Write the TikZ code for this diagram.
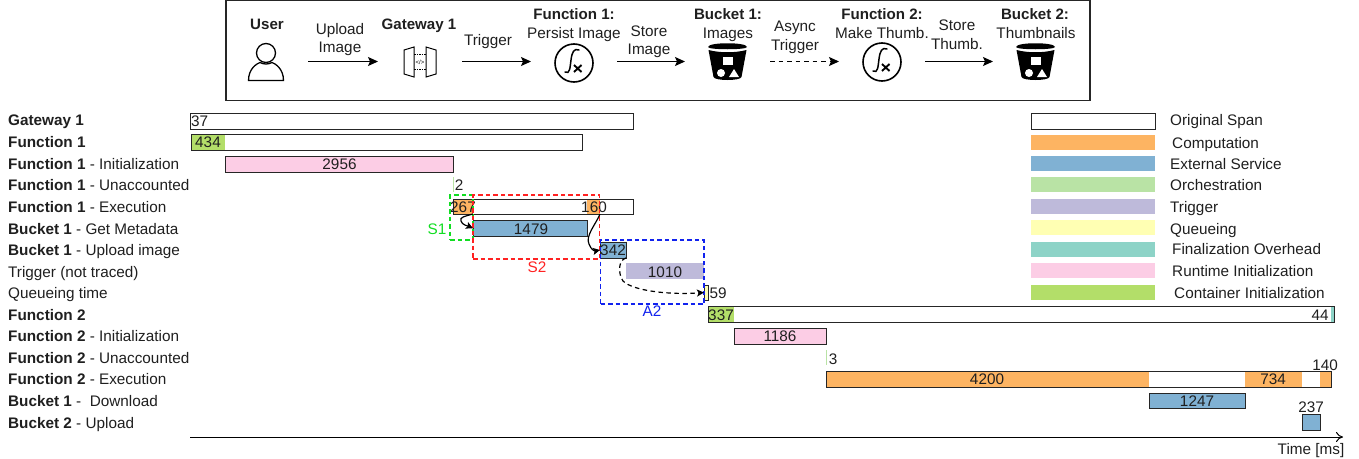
\documentclass[tikz,border=0pt]{standalone}
\usepackage{fontspec}
\setmainfont{Liberation Sans}
\usetikzlibrary{arrows.meta,calc}
\definecolor{cComp}{HTML}{FDB462}
\definecolor{cExt}{HTML}{80B1D3}
\definecolor{cOrch}{HTML}{B9E3A5}
\definecolor{cTrig}{HTML}{BEBADA}
\definecolor{cQueue}{HTML}{FFFFB3}
\definecolor{cFin}{HTML}{8DD3C7}
\definecolor{cRun}{HTML}{FCCDE5}
\definecolor{cCont}{HTML}{B3DE69}
\definecolor{cGreen}{HTML}{11DD22}
\definecolor{cRed}{HTML}{FF2222}
\definecolor{cBlue}{HTML}{1122EE}
\newcommand{\spn}[6]{\node[#1,minimum width={(#5-#3)*1pt},minimum height={(#6-#4)*1pt}] (#2) at ({(#3+#5)/2},{(#4+#6)/2}) {};}
\newcommand{\outl}[1]{\draw[barline] (#1.south west) rectangle (#1.north east);}
\tikzset{
  txt/.style={font=\fontsize{15.3}{18}\selectfont,inner sep=0pt,text height=10.8pt,text depth=3pt,text=black!88,yshift=-2pt},
  rowlabel/.style={txt,anchor=west},
  legendlabel/.style={txt,anchor=west},
  val/.style={txt},
  bold/.style={font=\fontsize{15.1}{18}\selectfont\bfseries},
  seg/.style={fill=#1,draw=none,inner sep=0pt,outer sep=0pt},
  barline/.style={draw=black!85,line width=1pt},
  boxed/.style={fill=#1,draw=black!85,line width=1pt,inner sep=0pt,outer sep=0pt},
  icon/.style={draw=none,fill=none,inner sep=0pt,outer sep=0pt,minimum height=40pt},
  flow/.style={line width=1.3pt,-{Stealth[length=10pt,width=9pt,inset=2pt]}},
  curve/.style={line width=1.2pt,-{Stealth[length=7pt,width=7pt,inset=1.5pt]}},
  dbox/.style={line width=1.3pt,dash pattern=on 4.5pt off 3pt,inner sep=0pt,outer sep=0pt,fill=none},
  bucket/.pic={
    \fill[black] (-19.5,-15) .. controls (-19.5,-20) and (19.5,-20) .. (19.5,-15) .. controls (19.5,-12) and (-19.5,-12) .. (-19.5,-15) -- cycle;
    \fill[black] (-19,-12) .. controls (-8,-9) and (8,-9) .. (19,-12) -- (14,15) .. controls (13,19) and (-13,19) .. (-14,15) -- cycle;
    \fill[white] (-4.5,-5) rectangle (5.5,3);
    \fill[white] (-6.5,11) circle (4);
    \fill[white] (6.5,7) -- (11.5,15) -- (1.5,15) -- cycle;
  },
  fnicon/.pic={
    \draw[line width=1.6pt] (0,0) circle (19);
    \draw[line width=1.5pt,line cap=round] (5,-13) .. controls (0,-15) and (-2,-11) .. (-3,-3) .. controls (-4,4) and (-4,12) .. (-9,9);
    \draw[line width=1.9pt] (0,2) -- (7.5,9) (7.5,2) -- (0,9);
  },
  gateicon/.pic={
    \draw[line width=1pt] (-16,-12) -- (-6,-15) -- (-6,15) -- (-16,12) -- cycle;
    \draw[line width=1pt] (16,-12) -- (6,-15) -- (6,15) -- (16,12) -- cycle;
    \draw[line width=.8pt,dash pattern=on 1.5pt off 1pt] (-6,-8) -- (6,-8) (-6,7) -- (6,7);
    \node[inner sep=0pt,font=\fontsize{6}{6}\selectfont] at (0,0) {</>};
  },
  usericon/.pic={
    \draw[line width=1.3pt] (0,-9.5) circle (9.5);
    \draw[line width=1.3pt] (-17.5,18) .. controls (-17.5,6) and (-9,1) .. (-6,0) .. controls (-2,2) and (2,2) .. (6,0) .. controls (9,1) and (17.5,6) .. (17.5,18) -- cycle;
  }
}
\begin{document}
\begin{tikzpicture}[x=1pt,y=-1pt]
\useasboundingbox (0,0) rectangle (1359,458);
\node[draw=black!85,line width=1.2pt,fill=none,minimum width=864pt,minimum height=100pt,inner sep=0pt] (frame) at (658,50.5) {};
% header icons
\node[icon,minimum width=84pt] (uI) at (266,61.5) {};
\node[icon,minimum width=84pt] (gI) at (420,61.5) {};
\node[icon,minimum width=86pt] (f1I) at (574,61.5) {};
\node[icon,minimum width=85pt] (b1I) at (727.5,61.5) {};
\node[icon,minimum width=86pt] (f2I) at (882,61.5) {};
\node[icon,minimum width=85pt] (b2I) at (1035.5,61.5) {};
\pic at (266,62.5) {usericon};
\pic at (420,62) {gateicon};
\pic at (574,63) {fnicon};
\pic at (727.5,62) {bucket};
\pic at (882,62) {fnicon};
\pic at (1035.5,62) {bucket};
\draw[flow] (uI) -- (gI);
\draw[flow] (gI) -- (f1I);
\draw[flow] (f1I) -- (b1I);
\draw[flow,dash pattern=on 4.5pt off 4pt] (b1I) -- (f2I);
\draw[flow] (f2I) -- (b2I);
% header text
\node[val,bold] (hUser) at (267,24) {User};
\node[val] (hUp1) at (340,29) {Upload};
\node[val] (hUp2) at (340,47) {Image};
\node[val,bold] (hGw) at (419,24) {Gateway 1};
\node[val] (hTr) at (488,40) {Trigger};
\node[val,bold] (hF1) at (574,14) {Function 1:};
\node[val] (hF1b) at (574,33) {Persist Image};
\node[val] (hSt1) at (649,31) {Store};
\node[val] (hSt2) at (649,49) {Image};
\node[val,bold] (hB1) at (728,14) {Bucket 1:};
\node[val] (hB1b) at (728,33) {Images};
\node[val] (hAs1) at (795,26) {Async};
\node[val] (hAs2) at (795,45) {Trigger};
\node[val,bold] (hF2) at (882,14) {Function 2:};
\node[val] (hF2b) at (882,33) {Make Thumb.};
\node[val] (hSt3) at (957,25) {Store};
\node[val] (hSt4) at (957,44) {Thumb.};
\node[val,bold] (hB2) at (1035,14) {Bucket 2:};
\node[val] (hB2b) at (1036,33) {Thumbnails};
% row labels
\node[rowlabel] (r1) at (8,120) {\textbf{Gateway 1}};
\node[rowlabel] (r2) at (8,142) {\textbf{Function 1}};
\node[rowlabel] (r3) at (8,164) {\textbf{Function 1} - Initialization};
\node[rowlabel] (r4) at (8,185) {\textbf{Function 1} - Unaccounted};
\node[rowlabel] (r5) at (8,207) {\textbf{Function 1} - Execution};
\node[rowlabel] (r6) at (8,228.5) {\textbf{Bucket 1} - Get Metadata};
\node[rowlabel] (r7) at (8,250) {\textbf{Bucket 1} - Upload image};
\node[rowlabel] (r8) at (8,271.5) {Trigger (not traced)};
\node[rowlabel] (r9) at (8,293) {Queueing time};
\node[rowlabel] (r10) at (8,314.5) {\textbf{Function 2}};
\node[rowlabel] (r11) at (8,336) {\textbf{Function 2} - Initialization};
\node[rowlabel] (r12) at (8,358) {\textbf{Function 2} - Unaccounted};
\node[rowlabel] (r13) at (8,379) {\textbf{Function 2} - Execution};
\node[rowlabel] (r14) at (8,401) {\textbf{Bucket 1} -\ \ Download};
\node[rowlabel] (r15) at (8,423) {\textbf{Bucket 2} - Upload};
% spans
\spn{boxed=white}{gw}{190}{113}{633}{129}
\node[val,anchor=west] (tgw) at (191,120.5) {37};
\spn{seg=white}{f1}{191}{134}{582}{150}
\spn{seg=cCont}{f1c}{191}{134}{225}{150}
\outl{f1}
\node[val] (t434) at (208,142) {434};
\spn{boxed=cRun}{f1i}{225}{156}{453}{172}
\node[val] (t2956) at (339.5,164) {2956};
\spn{seg=cOrch}{f1u}{452.5}{177}{454}{192}
\node[val] (t2) at (459,185) {2};
\spn{seg=white}{f1e}{453}{199}{633}{214}
\spn{seg=cComp}{o267}{453}{199}{473}{214}
\spn{seg=cComp}{o160}{587}{199}{600}{214}
\outl{f1e}
\node[val] (t267) at (463,207) {267};
\node[val] (t160) at (594,207) {160};
\spn{boxed=cExt}{gm}{473}{220.5}{587}{236}
\node[val] (t1479) at (531,229) {1479};
\spn{boxed=cExt}{ui}{600}{242}{626}{258}
\node[val] (t342) at (613,250) {342};
\spn{seg=cTrig}{tr}{626}{263}{704}{279}
\node[val] (t1010) at (665,272) {1010};
\spn{boxed=cQueue}{qu}{704}{285}{708}{300}
\node[val,anchor=west] (t59) at (709.5,293) {59};
\spn{seg=white}{f2}{708}{306}{1334}{322}
\spn{seg=cCont}{f2c}{708}{306}{734}{322}
\spn{seg=cFin}{f2f}{1331}{306}{1334}{322}
\outl{f2}
\node[val] (t337) at (721,314.5) {337};
\node[val] (t44) at (1320,314.5) {44};
\spn{boxed=cRun}{f2i}{734}{328}{826}{344}
\node[val] (t1186) at (780,336) {1186};
\spn{seg=cOrch}{f2u}{825.5}{350}{827}{365}
\node[val] (t3) at (833,358.5) {3};
\spn{seg=white}{f2e}{826}{371}{1331}{387}
\spn{seg=cComp}{e1}{826}{371}{1149}{387}
\spn{seg=cComp}{e2}{1245}{371}{1302}{387}
\spn{seg=cComp}{e3}{1320}{371}{1331}{387}
\outl{f2e}
\node[val] (t4200) at (987,379) {4200};
\node[val] (t734) at (1273,379) {734};
\node[val] (t140) at (1325,365) {140};
\spn{boxed=cExt}{dl}{1149}{393}{1245}{408}
\node[val] (t1247) at (1197,401) {1247};
\spn{boxed=cExt}{up}{1302}{414}{1320}{430}
\node[val] (t237) at (1311,407) {237};
% dashed boxes
\spn{dbox,draw=cGreen}{s1}{450}{195}{473}{240}
\spn{dbox,draw=cRed}{s2}{473}{195}{599.5}{259}
\spn{dbox,draw=cBlue}{a2}{600.5}{240}{704}{304}
\node[val,text=cGreen] (ls1) at (437,229) {S1};
\node[val,text=cRed] (ls2) at (537,267) {S2};
\node[val,text=cBlue] (la2) at (652,311) {A2};
% causal connectors
\draw[curve] (o267.south east) .. controls (466,216) and (459,217) .. (461,221) .. controls (462,225) and (468,226) .. (gm.west);
\draw[curve] (o160.south east) .. controls (596,224) and (585,236) .. (589,244) .. controls (591,250) and (595,251) .. (ui.west);
\draw[curve,dash pattern=on 4.5pt off 3.5pt] (ui.south east) .. controls (618,260) and (618,274) .. (623,281) .. controls (633,291) and (670,295) .. (qu.west);
% axis
\coordinate (ax0) at (190,437);
\coordinate (ax1) at (1343,437);
\draw[line width=1pt,-{To[length=7pt,width=10pt]}] (ax0) -- (ax1);
\node[val] (taxis) at (1311,449) {Time [ms]};
% legend
\spn{boxed=white}{l1}{1031}{113}{1155}{129}
\spn{seg=cComp}{l2}{1031}{135}{1155}{150}
\spn{seg=cExt}{l3}{1031}{156}{1155}{171}
\spn{seg=cOrch}{l4}{1031}{177}{1155}{192}
\spn{seg=cTrig}{l5}{1031}{199}{1155}{214}
\spn{seg=cQueue}{l6}{1031}{220}{1155}{235}
\spn{seg=cFin}{l7}{1031}{242}{1155}{257}
\spn{seg=cRun}{l8}{1031}{263}{1155}{278}
\spn{seg=cCont}{l9}{1031}{285}{1155}{300}
\node[legendlabel] (n1) at (1170,120) {Original Span};
\node[legendlabel] (n2) at (1172,143) {Computation};
\node[legendlabel] (n3) at (1170,164) {External Service};
\node[legendlabel] (n4) at (1170,185) {Orchestration};
\node[legendlabel] (n5) at (1170,207) {Trigger};
\node[legendlabel] (n6) at (1170,228.5) {Queueing};
\node[legendlabel] (n7) at (1172,249) {Finalization Overhead};
\node[legendlabel] (n8) at (1172,271) {Runtime Initialization};
\node[legendlabel] (n9) at (1174,293) {Container Initialization};
\end{tikzpicture}
\end{document}
